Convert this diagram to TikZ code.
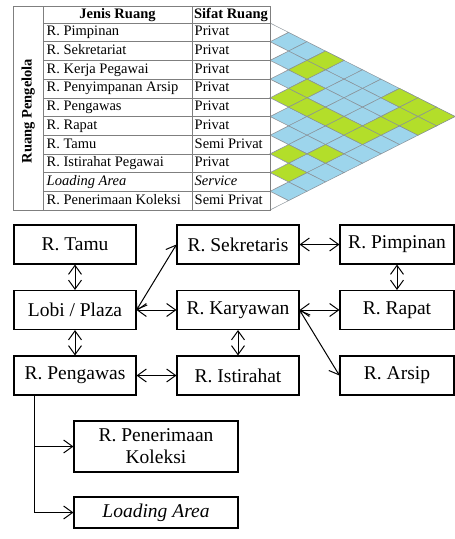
\documentclass[tikz,border=0pt]{standalone}
\usepackage{fontspec}
\setmainfont{Liberation Serif}
\usetikzlibrary{arrows.meta,calc}
\definecolor{cellblue}{HTML}{9DD5EC}
\definecolor{cellgreen}{HTML}{B3DE2A}
\definecolor{gridgray}{HTML}{8A9299}
\definecolor{tablegray}{HTML}{7F7F7F}
\tikzset{
  tabletext/.style={font=\fontsize{14.5}{16}\selectfont, inner sep=0pt, text height=10pt, text depth=3pt},
  headtext/.style={tabletext, font=\fontsize{14.5}{16}\selectfont\bfseries},
  roombox/.style={draw=black, line width=1.1pt, minimum height=39pt, inner sep=2pt,
    font=\fontsize{19.5}{22}\selectfont, align=center},
  cellline/.style={draw=gridgray, line width=0.5pt},
  tabline/.style={draw=tablegray, line width=0.6pt},
  link/.style={line width=1pt, {Straight Barb[length=9pt,width=13pt]}-{Straight Barb[length=9pt,width=13pt]}},
  onelink/.style={line width=1pt, -{Straight Barb[length=9pt,width=13pt]}}
}
\begin{document}
\begin{tikzpicture}[x=1pt,y=-1pt]
\useasboundingbox[fill=white] (0,0) rectangle (455,539);

% ---- interaction matrix ----
\foreach \i in {1,...,9}{
  \pgfmathtruncatemacro\jstart{\i+1}
  \foreach \j in {\jstart,...,10}{
    \pgfmathsetmacro\cx{270+18.5*(\j-\i)}
    \pgfmathsetmacro\cy{23+9.35*(\i+\j-1)}
    \path[fill=cellblue, cellline] (\cx-18.5,\cy) -- (\cx,\cy-9.35) -- (\cx+18.5,\cy) -- (\cx,\cy+9.35) -- cycle;
  }
}
\foreach \i/\j in {1/4,2/4,3/5,4/5,4/6,4/7,4/8,4/9,7/8,8/9,6/9,3/9,1/8,1/9,1/10,2/9,2/10}{
    \pgfmathsetmacro\cx{270+18.5*(\j-\i)}
    \pgfmathsetmacro\cy{23+9.35*(\i+\j-1)}
    \path[fill=cellgreen, cellline] (\cx-18.5,\cy) -- (\cx,\cy-9.35) -- (\cx+18.5,\cy) -- (\cx,\cy+9.35) -- cycle;
}
\foreach \i in {1,...,10}{
  \path[fill=white, cellline] (270,23+18.7*\i-18.7) -- (288.5,23+18.7*\i-9.35) -- (270,23+18.7*\i);
}

% ---- table ----
\path[tabline] (13,6) rectangle (270,210);
\path[tabline] (43,6) -- (43,210);
\path[tabline] (192,6) -- (192,210);
\foreach \k in {0,...,9}{
  \path[tabline] (43,23+18.7*\k) -- (270,23+18.7*\k);
}
\node[headtext, rotate=90] (grp) at (28,111) {Ruang Pengelola};
\node[headtext] (h1) at (117.5,14.7) {Jenis Ruang};
\node[headtext] (h2) at (231,14.7) {Sifat Ruang};
\foreach \k/\nm/\sf in {1/R. Pimpinan/Privat, 2/R. Sekretariat/Privat, 3/R. Kerja Pegawai/Privat,
  4/R. Penyimpanan Arsip/Privat, 5/R. Pengawas/Privat, 6/R. Rapat/Privat, 7/R. Tamu/Semi Privat,
  8/R. Istirahat Pegawai/Privat, 9/\textit{Loading Area}/\textit{Service}, 10/R. Penerimaan Koleksi/Semi Privat}{
  \node[tabletext, anchor=west] (n\k) at (46.5,23+18.7*\k-9.35) {\nm};
  \node[tabletext, anchor=west] (s\k) at (194.5,23+18.7*\k-9.35) {\sf};
}

% ---- relationship diagram ----
\node[roombox, minimum width=122pt] (tamu) at (75,244.5) {R. Tamu};
\node[roombox, minimum width=122pt] (sek) at (238,244.5) {R. Sekretaris};
\node[roombox, minimum width=114pt] (pim) at (397,244.5) {R. Pimpinan};
\node[roombox, minimum width=122pt] (lobi) at (75,310) {Lobi / Plaza};
\node[roombox, minimum width=122pt] (kar) at (238,310) {R. Karyawan};
\node[roombox, minimum width=114pt] (rap) at (397,310) {R. Rapat};
\node[roombox, minimum width=122pt] (peng) at (75,375.5) {R. Pengawas};
\node[roombox, minimum width=122pt] (ist) at (238,375.5) {R. Istirahat};
\node[roombox, minimum width=114pt] (arsip) at (397,375.5) {R. Arsip};
\node[roombox, minimum width=164pt, minimum height=51pt] (pen) at (156,446.5) {R. Penerimaan\\Koleksi};
\node[roombox, minimum width=164pt, minimum height=31pt] (load) at (156,512.5) {\textit{Loading Area}};

\draw[link] (tamu) -- (lobi);
\draw[link] (lobi) -- (peng);
\draw[link] (lobi.east) -- (sek.west);
\draw[link] (lobi) -- (kar);
\draw[link] (sek) -- (pim);
\draw[link] (pim) -- (rap);
\draw[link] (kar) -- (rap);
\draw[link] (kar) -- (ist);
\draw[link] (kar.east) -- (arsip.west);
\draw[link] (peng) -- (ist);
\coordinate (br) at ($(peng.south west)!0.175!(peng.south east)$);
\draw[onelink] (br) |- (pen.west);
\draw[onelink] (br) |- (load.west);
\end{tikzpicture}
\end{document}
